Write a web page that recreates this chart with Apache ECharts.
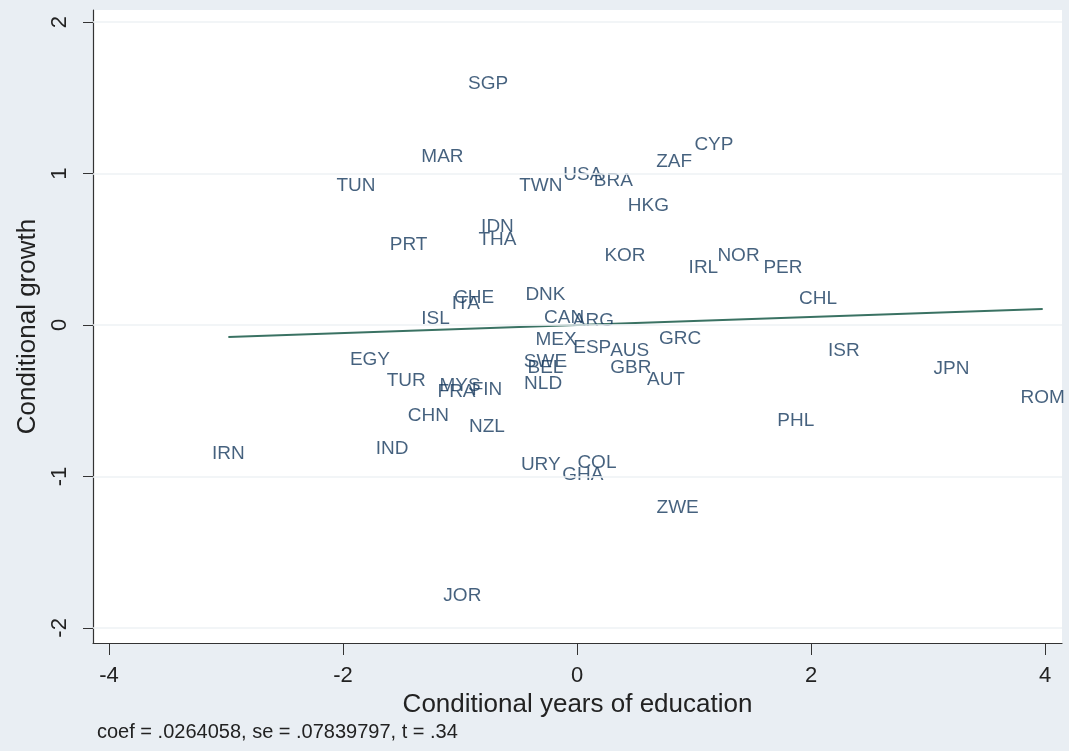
<!DOCTYPE html>
<html>
<head>
<meta charset="utf-8">
<script src="https://cdn.jsdelivr.net/npm/echarts@6/dist/echarts.min.js"></script>
<style>
html,body{margin:0;padding:0;background:#e9eef3;}
#chart{width:1069px;height:751px;}
</style>
</head>
<body>
<div id="chart"></div>
<script>
// Country codes and their conditional values (added-variable plot)
const countries = ["SGP","CYP","ZAF","MAR","TUN","TWN","USA","BRA","HKG","IDN","THA","PRT","KOR","IRL","NOR","PER","CHL","DNK","CHE","ITA","ISL","CAN","ARG","MEX","ESP","AUS","GRC","SWE","BEL","NLD","GBR","AUT","EGY","TUR","MYS","FRA","FIN","CHN","NZL","IND","IRN","URY","COL","GHA","ZWE","JOR","ISR","JPN","ROM","PHL"];
const eduX = [-0.76,1.17,0.83,-1.15,-1.89,-0.31,0.05,0.31,0.61,-0.68,-0.68,-1.44,0.41,1.08,1.38,1.76,2.06,-0.27,-0.88,-0.95,-1.21,-0.11,0.14,-0.18,0.13,0.45,0.88,-0.27,-0.27,-0.29,0.46,0.76,-1.77,-1.46,-1.00,-1.03,-0.77,-1.27,-0.77,-1.58,-2.98,-0.31,0.17,0.05,0.86,-0.98,2.28,3.20,3.98,1.87];
const growthY = [1.59,1.19,1.08,1.11,0.92,0.92,0.99,0.95,0.79,0.65,0.56,0.53,0.46,0.38,0.46,0.38,0.17,0.20,0.18,0.14,0.04,0.05,0.03,-0.10,-0.15,-0.17,-0.09,-0.24,-0.28,-0.39,-0.28,-0.36,-0.23,-0.37,-0.40,-0.44,-0.43,-0.60,-0.67,-0.82,-0.85,-0.92,-0.91,-0.99,-1.21,-1.79,-0.17,-0.29,-0.48,-0.63];
// Fitted line endpoints (coef = .0264058)
const fitX = [-2.98, 3.98];
const fitY = [-0.079, 0.105];
const xTicks = [-4,-2,0,2,4];
const yTicks = [-2,-1,0,1,2];
const noteText = "coef = .0264058, se = .07839797, t = .34";

const pts = countries.map((c,i)=>({name:c, value:[eduX[i], growthY[i]]}));
const fitData = fitX.map((x,i)=>[x, fitY[i]]);

const chart = echarts.init(document.getElementById('chart'));
const labelColor = '#163a5e';
const font = '"Liberation Sans", Arial, sans-serif';
chart.setOption({
  backgroundColor: '#e9eef3',
  animation: false,
  grid: {left: 93, right: 7, top: 10, bottom: 108, show: true, backgroundColor: '#ffffff', borderWidth: 0},
  xAxis: {
    type: 'value', min: -4.137, max: 4.145,
    axisLine: {show: true, onZero: false, lineStyle: {color: '#333', width: 1.2}},
    axisTick: {show: true, length: 12, customValues: xTicks, lineStyle: {color: '#333'}},
    axisLabel: {customValues: xTicks, color: '#222', fontSize: 22, fontFamily: font, margin: 22},
    splitLine: {show: false},
    name: 'Conditional years of education', nameLocation: 'middle', nameGap: 48,
    nameTextStyle: {color: '#222', fontSize: 26, fontFamily: font}
  },
  yAxis: {
    type: 'value', min: -2.10, max: 2.08,
    axisLine: {show: true, onZero: false, lineStyle: {color: '#333', width: 1.2}},
    axisTick: {show: true, length: 10, customValues: yTicks, lineStyle: {color: '#333'}},
    axisLabel: {customValues: yTicks, rotate: 90, color: '#222', fontSize: 22, fontFamily: font, margin: 22},
    splitLine: {show: false},
    name: 'Conditional growth', nameLocation: 'middle', nameGap: 47,
    nameTextStyle: {color: '#222', fontSize: 26, fontFamily: font}
  },
  graphic: [{
    type: 'text', left: 97, top: 722,
    style: {text: noteText, fill: '#222', font: '20px ' + font}
  }],
  series: [
    {
      type: 'line', data: [], silent: true,
      markLine: {
        silent: true, symbol: 'none', label: {show: false},
        lineStyle: {color: '#eef2f5', width: 1.5, type: 'solid'},
        data: yTicks.map(v=>({yAxis: v}))
      }
    },
    {
      type: 'line', data: fitData, showSymbol: false, silent: true,
      lineStyle: {color: '#3a7263', width: 2}, z: 3
    },
    {
      type: 'scatter', data: pts, symbolSize: 0, z: 4,
      label: {show: true, position: 'inside', formatter: p=>p.name,
        color: labelColor, fontSize: 19, fontFamily: font}
    }
  ]
});
</script>
</body>
</html>
